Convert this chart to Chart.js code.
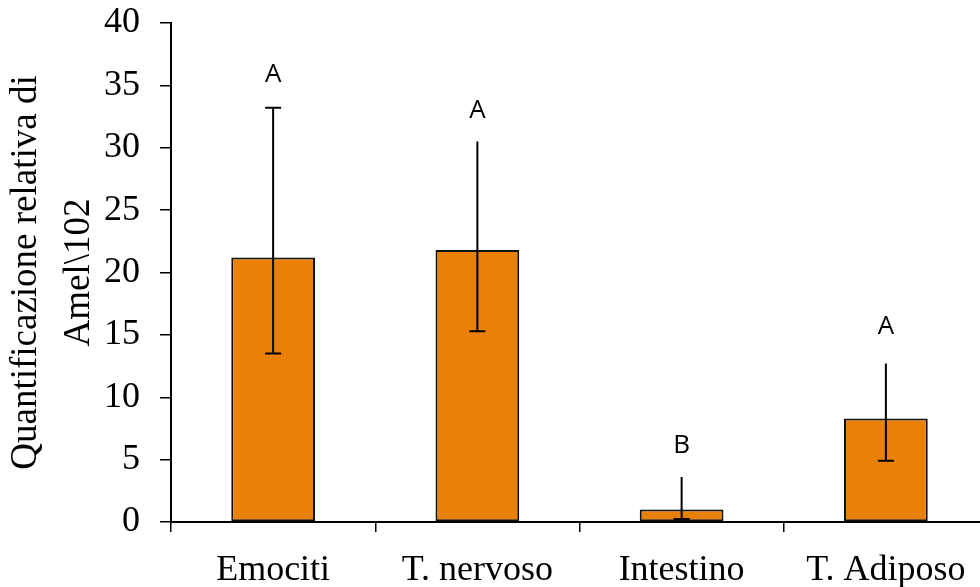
<!DOCTYPE html>
<html>
<head>
<meta charset="utf-8">
<script src="https://cdn.jsdelivr.net/npm/chart.js@4"></script>
<style>
  html, body { margin: 0; padding: 0; background: #fff; overflow: hidden; }
  #wrap { width: 988px; height: 587px; }
</style>
</head>
<body>
<div id="wrap"><canvas id="chart"></canvas></div>
<script>
const tissues = ['Emociti', 'T. nervoso', 'Intestino', 'T. Adiposo']
const means = [21.2, 21.8, 1.0, 8.3]
const errHigh = [33.2, 30.5, 3.6, 12.7]
const errLow = [13.5, 15.3, 0.25, 4.9]
const groups = ['A', 'A', 'B', 'A']

// error bars + significance letters drawn on top of the bars
const errorBars = {
  id: 'errorBars',
  afterDatasetsDraw(chart, args, opts) {
    const { ctx, scales: { x, y } } = chart
    ctx.save()
    ctx.strokeStyle = '#000'
    ctx.lineWidth = 2
    means.forEach((m, i) => {
      const cx = x.getPixelForValue(i)
      const top = y.getPixelForValue(errHigh[i])
      const bot = y.getPixelForValue(errLow[i])
      ctx.beginPath()
      ctx.moveTo(cx, top)
      ctx.lineTo(cx, bot)
      if (opts.topCaps[i]) {
        ctx.moveTo(cx - 8, top)
        ctx.lineTo(cx + 8, top)
      }
      ctx.moveTo(cx - 8, bot)
      ctx.lineTo(cx + 8, bot)
      ctx.stroke()

      ctx.fillStyle = '#000'
      ctx.font = '26px "Open Sans", sans-serif'
      ctx.textAlign = 'center'
      ctx.textBaseline = 'middle'
      ctx.fillText(groups[i], cx, top - opts.letterGap[i])
    })
    ctx.restore()
  }
}

const serif = '"Liberation Serif", "Times New Roman", serif'

window.addEventListener('load', function () {
  const ctx = document.getElementById('chart')
  new Chart(ctx, {
    type: 'bar',
    data: {
      labels: tissues,
      datasets: [{
        data: means,
        backgroundColor: '#EA8005',
        borderColor: '#111',
        borderWidth: 2,
        borderSkipped: false,
        barPercentage: 0.41,
        categoryPercentage: 1.0
      }]
    },
    plugins: [errorBars],
    options: {
      responsive: true,
      maintainAspectRatio: false,
      animation: false,
      layout: { padding: 0 },
      plugins: {
        legend: { display: false },
        tooltip: { enabled: false },
        errorBars: {
          topCaps: [true, false, false, false],
          letterGap: [33, 31, 31, 37]
        }
      },
      scales: {
        x: {
          offset: true,
          grid: {
            offset: true,
            drawOnChartArea: false,
            color: '#000',
            lineWidth: 1.5,
            tickLength: 10
          },
          border: { color: '#000', width: 2 },
          ticks: {
            color: '#000',
            padding: 17,
            maxRotation: 0,
            font: { family: serif, size: 36 }
          },
          afterFit(scale) {
            scale.height = 65
            scale.paddingLeft = 0
            scale.paddingRight = 0
          }
        },
        y: {
          min: 0,
          max: 40,
          ticks: {
            stepSize: 5,
            color: '#000',
            padding: 20,
            font: { family: serif, size: 36 }
          },
          grid: {
            drawOnChartArea: false,
            color: '#000',
            lineWidth: 1.5,
            tickLength: 11
          },
          border: { color: '#000', width: 2 },
          title: {
            display: true,
            text: ['Quantificazione relativa di', 'Amel\\102'],
            color: '#000',
            padding: 0,
            font: { family: serif, size: 37, lineHeight: 1.43 }
          },
          afterFit(scale) {
            scale.width = 171
            scale.paddingTop = 23
            scale.paddingBottom = 0
          }
        }
      }
    }
  })
})
</script>
</body>
</html>
